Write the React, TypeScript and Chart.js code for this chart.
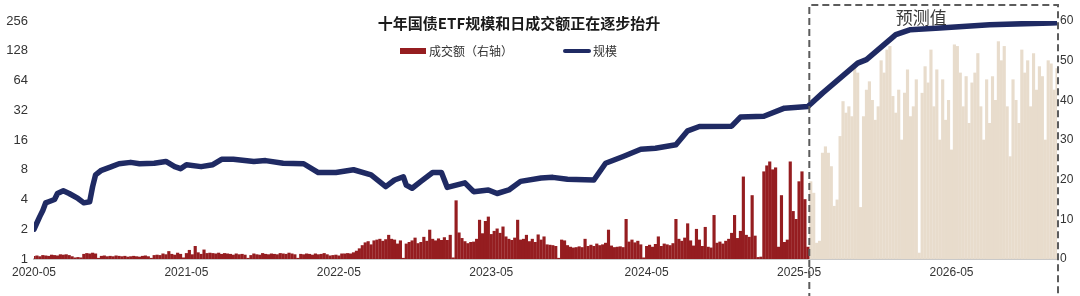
import React, { useEffect, useRef } from 'react';
import { Chart, registerables } from 'chart.js';

Chart.register(...registerables);

const TITLE = '十年国债ETF规模和日成交额正在逐步抬升';
const LEGEND_VOLUME = '成交额（右轴）';
const LEGEND_SCALE = '规模';
const FORECAST_LABEL = '预测值';

// x axis: weekly index, 0 = first week of 2020-05
const TICK_WEEKS = [0, 52, 104, 156, 209, 261, 313];
const TICK_LABELS = ['2020-05', '2021-05', '2022-05', '2023-05', '2024-05', '2025-05', '2026-05'];
const LAST_WEEK = 349;

const LEFT_TICKS = [1, 2, 4, 8, 16, 32, 64, 128, 256];

// weekly turnover (right axis), historical
const HIST_VOLUME = [
  0.7, 0.8, 0.6, 0.9, 0.8, 0.7, 1.0, 0.9, 0.8, 1.1,
  1.0, 1.1, 0.9, 0.6, 0.3, 0.4, 0.3, 1.2, 1.4, 1.3,
  1.5, 1.3, 0.2, 0.7, 0.8, 0.6, 0.7, 0.6, 0.8, 0.7,
  0.6, 0.7, 0.5, 0.6, 0.7, 0.6, 0.5, 0.7, 0.8, 0.6,
  0.2, 0.9, 1.0, 0.9, 1.3, 1.1, 1.9, 1.2, 1.0, 1.5,
  1.2, 0.3, 1.4, 2.2, 1.1, 3.2, 1.6, 1.2, 2.3, 1.4,
  1.5, 1.4, 1.3, 1.5, 1.2, 1.4, 1.3, 1.2, 1.0, 1.3,
  1.1, 1.2, 1.0, 0.2, 0.9, 1.3, 1.1, 1.0, 1.4, 1.2,
  1.1, 1.3, 1.2, 1.1, 1.4, 1.3, 1.2, 1.5, 1.3, 1.1,
  0.2, 1.2, 1.1, 1.3, 1.2, 1.0, 1.3, 1.1, 1.2, 1.4,
  1.1, 0.8, 0.9, 1.0, 0.8, 1.3, 1.3, 1.4, 1.3, 1.6,
  2.0, 2.6, 3.4, 4.1, 4.4, 3.6, 4.6, 4.8, 5.0, 4.5,
  4.9, 6.0, 5.0, 4.8, 3.8, 4.6, 0.2, 3.8, 4.2, 4.6,
  5.3, 3.9, 4.2, 5.5, 4.5, 7.3, 5.0, 4.6, 5.1, 4.7,
  5.4, 4.7, 6.0, 0.3, 14.7, 6.6, 5.2, 4.4, 3.9, 4.2,
  4.3, 5.0, 9.8, 6.4, 9.5, 10.6, 6.2, 7.0, 7.6, 6.5,
  8.1, 5.6, 5.0, 4.7, 5.3, 9.8, 4.8, 5.0, 6.0, 4.4,
  5.0, 4.2, 6.1, 4.8, 5.6, 3.6, 3.5, 3.4, 3.2, 0.2,
  4.8, 4.6, 3.4, 3.0, 2.8, 2.9, 3.1, 2.9, 5.0, 3.2,
  3.5, 3.2, 3.8, 3.4, 3.6, 4.0, 7.3, 3.3, 2.9, 3.0,
  3.1, 2.9, 10.0, 4.3, 4.8, 4.1, 4.5, 3.6, 0.3, 3.2,
  3.5, 3.0, 3.7, 5.6, 3.2, 3.8, 3.6, 3.4, 3.9, 10.0,
  5.0, 4.5, 5.3, 8.9, 4.6, 3.3, 7.5, 4.8, 3.2, 8.0,
  3.0, 2.8, 11.0, 4.0, 4.3, 3.8, 4.5, 5.0, 6.5, 11.0,
  5.2, 7.0, 20.7, 6.0, 5.5, 16.0, 5.8, 0.4, 0.5, 22.0,
  23.5, 24.5, 22.5, 23.0, 3.0, 16.0, 4.2, 4.8, 24.5, 12.0,
  10.0, 19.5, 22.0, 15.0, 3.0,
];

// weekly turnover forecast (right axis)
const FCST_START = 265;
const FCST_VOLUME = [
  19.5, 16.6, 4.0, 4.5, 26.7, 28.3, 26.7, 23.3, 13.3, 14.9,
  30.9, 39.7, 36.8, 38.4, 35.9, 48.5, 46.9, 13.0, 35.9, 42.6,
  44.7, 40.0, 35.0, 38.4, 50.0, 46.9, 52.7, 53.6, 41.0, 36.8,
  42.6, 30.0, 41.8, 47.7, 35.9, 38.4, 45.2, 1.5, 41.8, 48.5,
  44.4, 52.7, 38.4, 47.7, 30.0, 45.2, 35.0, 40.0, 27.5, 54.0,
  53.6, 46.9, 38.4, 46.0, 34.2, 44.4, 46.9, 51.8, 38.4, 30.0,
  45.2, 34.2, 46.0, 40.0, 54.8, 50.0, 53.6, 38.4, 25.8, 45.2,
  40.0, 34.2, 52.7, 46.9, 50.0, 38.4, 51.8, 42.6, 48.5, 46.0,
  30.0, 50.0, 49.2, 42.6, 48.0,
];

// fund size (left log axis), read at these weeks
const SCALE_WEEKS = [
  0, 2, 3, 4, 5, 7, 8, 10, 12, 15, 17, 19, 20, 21, 23, 26, 29, 33, 36, 41,
  45, 48, 50, 52, 57, 61, 64, 68, 75, 79, 85, 92, 97, 103, 109, 115, 120, 123, 126, 127,
  129, 132, 136, 139, 141, 147, 150, 155, 158, 162, 166, 173, 177, 182, 191, 195, 201, 207, 212, 219,
  223, 227, 238, 241, 249, 256, 264, 269, 281, 284, 294, 299, 309, 326, 347, 349,
];
const SCALE_VALUES = [
  2.0, 2.7, 3.1, 3.7, 3.8, 4.0, 4.6, 4.9, 4.6, 4.1, 3.7, 3.8, 5.4, 7.1, 7.9, 8.5, 9.2, 9.5, 9.2, 9.3,
  9.7, 8.6, 8.2, 9.0, 8.6, 9.0, 10.2, 10.2, 9.7, 9.9, 9.3, 9.2, 7.5, 7.5, 8.0, 7.1, 5.4, 6.3, 6.8, 5.6,
  5.2, 6.1, 7.5, 7.5, 5.3, 5.9, 4.8, 5.0, 4.6, 5.0, 6.1, 6.6, 6.7, 6.4, 6.3, 9.3, 10.9, 12.9, 13.2, 14.3,
  19.8, 21.9, 22.1, 27.3, 27.8, 33.6, 34.9, 47.7, 96, 104, 186, 209, 218, 235, 245, 246,
];

const NUM_FONT = "'Liberation Sans', Arial, 'Noto Sans CJK SC', sans-serif";
const CJK_FONT = "'Noto Sans CJK SC', 'Liberation Sans', sans-serif";
const RED = '#951d20';
const BEIGE = '#e8dccc';
const NAVY = '#1f2a63';
const TEXT = '#333333';

export default function App() {
  const ref = useRef<HTMLCanvasElement>(null);

  useEffect(() => {
    document.body.style.margin = '0';
    const canvas = ref.current;
    if (!canvas) return;

    const overlay = {
      id: 'overlay',
      afterDraw(chart: any) {
        const { ctx, chartArea, scales } = chart;
        ctx.save();
        // forecast dashed box
        const xl = scales.x.getPixelForValue(FCST_START - 0.5);
        const xr = chartArea.right + 1;
        ctx.setLineDash([7, 4]);
        ctx.lineWidth = 2;
        ctx.strokeStyle = '#5c5c5c';
        ctx.beginPath();
        ctx.moveTo(xl, 300);
        ctx.lineTo(xl, 5);
        ctx.lineTo(xr, 5);
        ctx.lineTo(xr, 300);
        ctx.stroke();
        ctx.setLineDash([]);

        ctx.textBaseline = 'middle';
        ctx.textAlign = 'center';
        ctx.fillStyle = '#3a3a3a';
        ctx.font = `17px ${CJK_FONT}`;
        ctx.fillText(FORECAST_LABEL, xl + 112, 18);

        // title
        ctx.fillStyle = '#1a1a1a';
        ctx.font = `bold 15px ${CJK_FONT}`;
        ctx.fillText(TITLE, 519, 23);

        // legend
        ctx.fillStyle = RED;
        ctx.fillRect(400, 48, 26, 6);
        ctx.textAlign = 'left';
        ctx.fillStyle = TEXT;
        ctx.font = `12px ${CJK_FONT}`;
        ctx.fillText(LEGEND_VOLUME, 429, 51);
        ctx.strokeStyle = NAVY;
        ctx.lineWidth = 4;
        ctx.lineCap = 'round';
        ctx.beginPath();
        ctx.moveTo(565, 51);
        ctx.lineTo(589, 51);
        ctx.stroke();
        ctx.fillStyle = TEXT;
        ctx.fillText(LEGEND_SCALE, 593, 51);
        ctx.restore();
      },
    };

    const chart = new Chart(canvas, {
      type: 'bar',
      data: {
        datasets: [
          {
            type: 'line',
            label: LEGEND_SCALE,
            data: SCALE_WEEKS.map((w, k) => ({ x: w, y: SCALE_VALUES[k] })),
            yAxisID: 'y',
            borderColor: NAVY,
            backgroundColor: NAVY,
            borderWidth: 5.5,
            pointRadius: 0,
            tension: 0,
            borderJoinStyle: 'round',
            borderCapStyle: 'round',
            order: 0,
          } as any,
          {
            type: 'bar',
            label: LEGEND_VOLUME,
            data: HIST_VOLUME.map((v, i) => ({ x: i, y: v })),
            yAxisID: 'y1',
            backgroundColor: RED,
            barThickness: 2.5,
            grouped: false,
            order: 1,
          } as any,
          {
            type: 'bar',
            label: FORECAST_LABEL,
            data: FCST_VOLUME.map((v, k) => ({ x: FCST_START + k, y: v })),
            yAxisID: 'y1',
            backgroundColor: BEIGE,
            barThickness: 2.5,
            grouped: false,
            order: 1,
          } as any,
        ],
      },
      options: {
        responsive: false,
        animation: false,
        devicePixelRatio: 1,
        layout: { padding: { top: 21, left: 0, right: 0, bottom: 0 } },
        plugins: {
          legend: { display: false },
          title: { display: false },
          tooltip: { enabled: false },
        },
        scales: {
          x: {
            type: 'linear',
            offset: false,
            bounds: 'data',
            min: 0,
            max: LAST_WEEK,
            grid: { display: false, drawTicks: false, offset: false },
            border: { display: true, color: '#c9c9c9', width: 2 },
            afterBuildTicks: (s: any) => {
              s.ticks = TICK_WEEKS.map((v) => ({ value: v }));
            },
            afterFit: (s: any) => {
              s.height = 37;
            },
            ticks: {
              autoSkip: false,
              maxRotation: 0,
              padding: 6,
              color: TEXT,
              font: { family: NUM_FONT, size: 12 },
              callback: (_v: any, i: number) => TICK_LABELS[i],
            },
          },
          y: {
            type: 'logarithmic',
            position: 'left',
            min: 1,
            max: 256,
            grid: { display: false, drawTicks: false },
            border: { display: false },
            afterBuildTicks: (s: any) => {
              s.ticks = LEFT_TICKS.map((v) => ({ value: v }));
            },
            afterFit: (s: any) => {
              s.width = 34;
            },
            ticks: {
              padding: 6,
              color: TEXT,
              font: { family: NUM_FONT, size: 13 },
              callback: (v: any) => String(v),
            },
          },
          y1: {
            type: 'linear',
            position: 'right',
            min: 0,
            max: 60,
            grid: { display: false, drawTicks: false },
            border: { display: false },
            afterFit: (s: any) => {
              s.width = 23;
            },
            ticks: {
              stepSize: 10,
              padding: 3,
              color: TEXT,
              font: { family: NUM_FONT, size: 12 },
            },
          },
        },
      } as any,
      plugins: [overlay],
    });

    return () => chart.destroy();
  }, []);

  return <canvas ref={ref} width={1080} height={296} style={{ display: 'block' }} />;
}
